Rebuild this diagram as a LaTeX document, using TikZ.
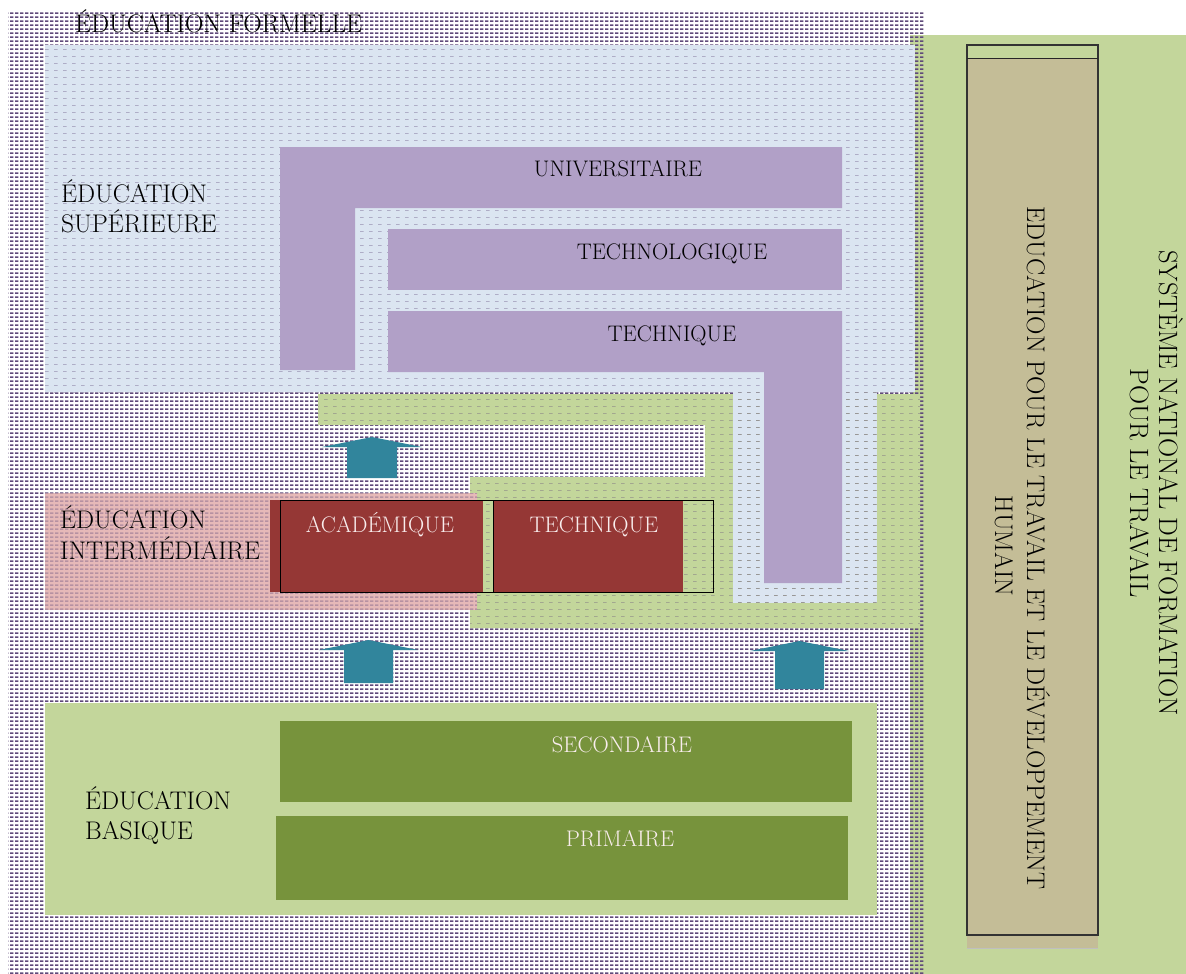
\documentclass[tikz,border=0pt]{standalone}
\usepackage{fontspec}
\usepackage{tikz}
\usetikzlibrary{patterns}
\usetikzlibrary{calc}

\definecolor{violet}{RGB}{95,73,122}
\definecolor{bleuclair}{RGB}{219,229,241}
\definecolor{vertclair}{RGB}{195,214,155}
\definecolor{vertfonce}{RGB}{119,147,60}
\definecolor{mauve}{RGB}{177,160,199}
\definecolor{bordeaux}{RGB}{149,55,53}
\definecolor{rose}{RGB}{230,185,184}
\definecolor{sarcelle}{RGB}{49,133,156}
\definecolor{beige}{RGB}{196,189,151}

% trames
\pgfdeclarepatternformonly{hachure}{\pgfpointorigin}{\pgfqpoint{5pt}{4pt}}{\pgfqpoint{5pt}{4pt}}{%
  \pgfpathrectangle{\pgfpointorigin}{\pgfqpoint{4pt}{2pt}}%
  \pgfusepath{fill}}
\pgfdeclarepatternformonly{pointille}{\pgfpointorigin}{\pgfqpoint{9pt}{7pt}}{\pgfqpoint{9pt}{7pt}}{%
  \pgfpathrectangle{\pgfpointorigin}{\pgfqpoint{4pt}{0.8pt}}%
  \pgfusepath{fill}}

% fleche pleine : gauche, droite, sommet, bas
\newcommand{\fleche}[4]{%
  \fill[sarcelle] (#1,#4) -- (#1,#3+10) -- (#1-25,#3+10) -- ({(#1+#2)/2},#3)
    -- (#2+25,#3+10) -- (#2,#3+10) -- (#2,#4) -- cycle;}

\begin{document}
\begin{tikzpicture}[x=1pt,y=-1pt]
\tikzstyle{every node}=[inner sep=0pt,font=\fontsize{25.5}{30}\selectfont]
\tikzstyle{titre}=[anchor=base west]
\tikzstyle{barre}=[anchor=base,font=\fontsize{22.5}{26}\selectfont]
\tikzstyle{blanc}=[barre,text=rose!25!white]
\tikzstyle{vertical}=[anchor=base,rotate=-90]
\useasboundingbox (0,0) rectangle (1186,974);

%=== Fond
\fill[vertclair] (910,35) rectangle (1186,974);
\fill[white] (8,12) rectangle (905,974);
\fill[pattern=hachure,pattern color=violet] (8,12) rectangle (924,974);
\node[titre] (formelle) at (75,33) {ÉDUCATION FORMELLE};

%=== Education superieure
\fill[bleuclair] (45,45) rectangle (915,392);
\fill[vertclair] (318,394) -- (920,394) -- (920,628) -- (470,628) -- (470,477)
  -- (705,477) -- (705,425) -- (318,425) -- cycle;
\fill[bleuclair] (733,390) rectangle (877,603);
\fill[pattern=pointille,pattern color=bleuclair!45!violet] (45,45) rectangle (915,392);
\fill[pattern=pointille,pattern color=vertclair!45!violet] (733,390) rectangle (877,603);
\fill[pattern=pointille,pattern color=vertclair!50!violet] (318,394) -- (920,394) -- (920,628)
  -- (470,628) -- (470,477) -- (705,477) -- (705,425) -- (318,425) -- cycle;
\fill[mauve] (280,147) -- (842,147) -- (842,208) -- (355,208) -- (355,370) -- (280,370) -- cycle;
\fill[mauve] (388,229) rectangle (842,290);
\fill[mauve] (388,311) -- (842,311) -- (842,583) -- (764,583) -- (764,372) -- (388,372) -- cycle;
\node[titre] (sup1) at (61,202) {ÉDUCATION};
\node[titre] (sup2) at (61,232) {SUPÉRIEURE};
\node[barre] (univ) at (618,176) {UNIVERSITAIRE};
\node[barre] (techno) at (672,259) {TECHNOLOGIQUE};
\node[barre] (tech) at (672,341) {TECHNIQUE};

%=== Education intermediaire
\fill[rose] (45,493) rectangle (477,610);
\fill[pattern=hachure,pattern color=violet,opacity=0.35] (45,493) rectangle (477,610);
\fill[bordeaux] (270,500) rectangle (483,592);
\fill[bordeaux] (493,500) rectangle (683,592);
\draw[thick] (280,500) rectangle (493,592);
\draw[thick] (493,500) rectangle (713,592);
\node[titre] (inter1) at (60,528) {ÉDUCATION};
\node[titre] (inter2) at (60,559) {INTERMÉDIAIRE};
\node[blanc] (acad) at (380,532) {ACADÉMIQUE};
\node[blanc] (techint) at (594,532) {TECHNIQUE};

% Fleches
\fleche{347}{397}{437}{478}
\fleche{344}{393}{640}{683}
\fleche{775}{824}{641}{689}

%=== Education basique
\fill[vertclair] (45,703) rectangle (877,915);
\fill[vertfonce] (280,721) rectangle (852,802);
\fill[vertfonce] (276,816) rectangle (848,900);
\node[titre] (bas1) at (85,809) {ÉDUCATION};
\node[titre] (bas2) at (85,839) {BASIQUE};
\node[blanc] (second) at (622,752) {SECONDAIRE};
\node[blanc] (prim) at (620,846) {PRIMAIRE};

%=== Formation pour le travail
\fill[beige] (967,58) rectangle (1098,948);
\draw[black!25] (967,948) -- (1098,948);
\draw[line width=1.3pt,black!80] (967,45) rectangle (1098,935);
\draw[black!85] (967,58) -- (1098,58);
\node[vertical] (col1) at (1027,548) {EDUCATION POUR LE TRAVAIL ET LE DÉVELOPPEMENT};
\node[vertical] (col2) at (995,546) {HUMAIN};
\node[vertical,font=\fontsize{26.5}{30}\selectfont] (sys1) at (1159,483) {SYSTÈME NATIONAL DE FORMATION};
\node[vertical,font=\fontsize{26.5}{30}\selectfont] (sys2) at (1130,483) {POUR LE TRAVAIL};
\end{tikzpicture}
\end{document}
